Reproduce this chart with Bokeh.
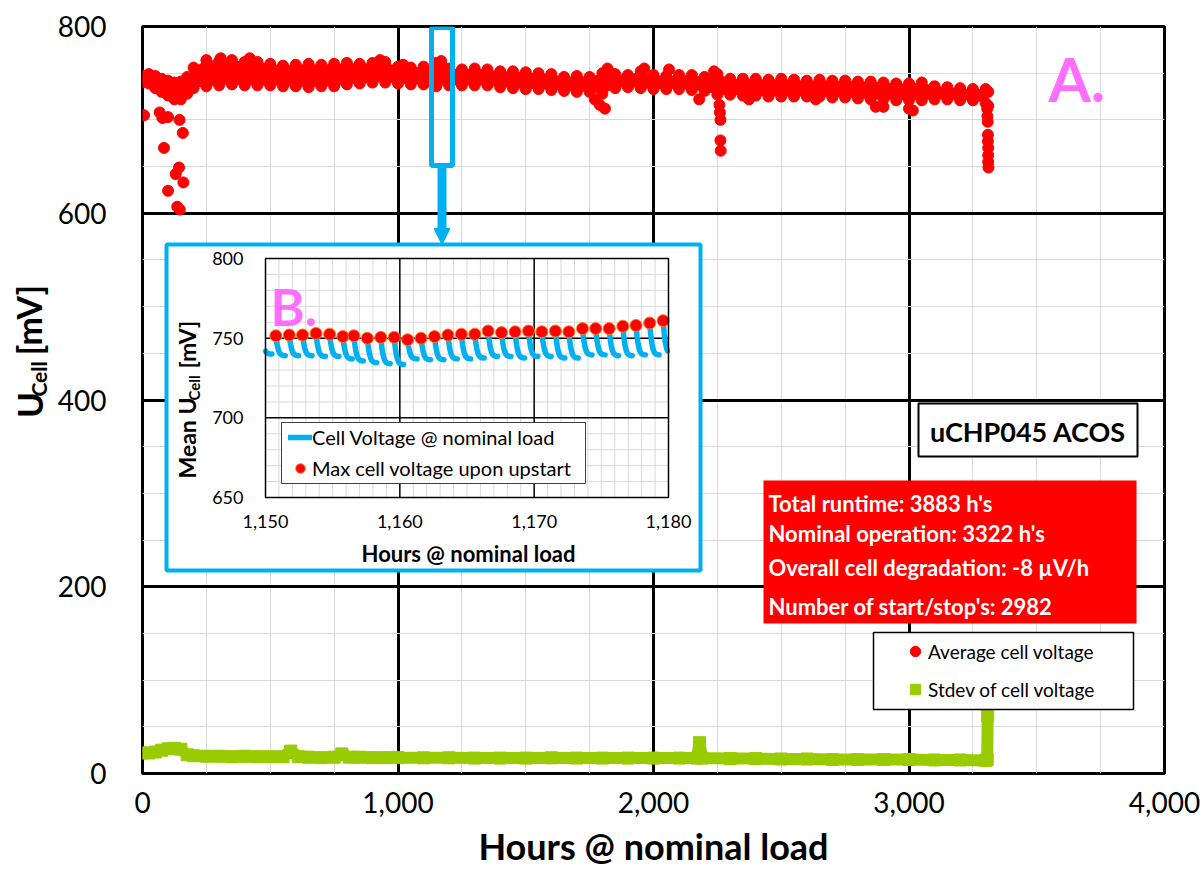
import math
from bokeh.plotting import figure
from bokeh.layouts import row
from bokeh.models import (Range1d, SingleIntervalTicker, NumeralTickFormatter, Label,
                          BoxAnnotation, Legend, LegendItem, Arrow, NormalHead)
from bokeh.core.properties import value
from bokeh.embed import file_html
from bokeh.resources import INLINE

# ---------------- data ----------------
# Average cell voltage band: upper and lower dot centres [mV]
avg_hours = [0, 25, 50, 75, 100, 125, 150, 175,
             200, 250, 300, 350, 400, 450, 500, 550, 600, 650, 700, 750, 800, 850, 900, 950,
             1000, 1050, 1100, 1150, 1200, 1250, 1300, 1350, 1400, 1450, 1500, 1550, 1600, 1650, 1700, 1750,
             1800, 1850, 1900, 1950, 2000, 2050, 2100, 2150, 2200, 2250, 2300, 2350, 2400, 2450, 2500, 2550,
             2600, 2650, 2700, 2750, 2800, 2850, 2900, 2950, 3000, 3050, 3100, 3150, 3200, 3250, 3300, 3310]
avg_high_mv = [747, 749, 747, 744, 742, 740, 741, 746,
               756, 764, 763, 764, 762, 762, 760, 758, 759, 760, 759, 760, 761, 760, 761, 762,
               757, 756, 757, 761, 755, 754, 755, 754, 752, 752, 751, 750, 749, 746, 747, 746,
               750, 749, 748, 752, 748, 747, 748, 748, 746, 749, 744, 744, 744, 743, 744, 743,
               742, 743, 742, 742, 741, 741, 740, 739, 739, 740, 736, 735, 734, 733, 733, 730]
avg_low_mv = [740, 739, 734, 730, 726, 722, 722, 728,
              734, 736, 737, 738, 737, 737, 737, 736, 736, 735, 736, 736, 738, 739, 740, 740,
              739, 738, 738, 736, 737, 737, 737, 737, 735, 734, 733, 733, 732, 731, 730, 730,
              728, 734, 735, 734, 733, 733, 733, 732, 731, 727, 727, 726, 726, 725, 725, 725,
              725, 725, 724, 724, 723, 722, 722, 721, 721, 721, 722, 722, 721, 721, 718, 715]
# single dots outside the band (start-up dips, spikes, final shut-down)
avg_extra_hours = [6, 67, 78, 84, 100, 100, 130, 136, 143, 145, 146, 158, 160,
                   306, 420, 930, 1020, 1169, 1820, 1964, 2061, 2237,
                   1770, 1790, 1810, 2179, 2258, 2260, 2262, 2262, 2263, 2374, 2635, 2870, 2900, 3000, 3015,
                   3306, 3307, 3308, 3309, 3309, 3310, 3310, 3310, 3311]
avg_extra_mv = [705, 708, 702, 670, 703, 624, 642, 607, 649, 700, 604, 686, 633,
                766, 766, 764, 759, 763, 755, 755, 754, 752,
                722, 716, 712, 722, 716, 708, 700, 678, 667, 722, 722, 714, 714, 712, 710,
                712, 704, 698, 684, 677, 670, 662, 655, 649]

# Standard deviation of cell voltage [mV]
stdev_hours = [0, 25, 50, 75, 100, 125, 150, 175, 200, 250, 300, 350, 400, 450, 500, 550,
               580, 610, 650, 700, 750, 780, 810, 850, 900, 950, 1000, 1100, 1200, 1300, 1400, 1500,
               1600, 1700, 1800, 1900, 2000, 2100, 2170, 2180, 2190, 2300, 2400, 2500, 2600, 2700, 2800, 2900,
               3000, 3100, 3200, 3300, 3306, 3308]
stdev_mv = [22, 22, 23, 25, 26.5, 27, 26, 20, 19, 18.5, 18.5, 18, 18.5, 18, 18, 18,
            24, 18, 17.5, 17, 17.5, 21, 17.5, 17.5, 17, 17, 17, 16.8, 16.8, 16.5, 16.5, 16.5,
            16.8, 16.5, 16.5, 16.5, 16.5, 16.5, 16.5, 33, 16.5, 16, 16, 15.5, 15.5, 15, 15, 15,
            15, 14.5, 14.5, 14, 15, 62]

# Inset: 1150 - 1180 h
inset_dot_hours = [1150.77, 1151.77, 1152.76, 1153.76, 1154.77, 1155.76, 1156.58, 1157.58, 1158.58, 1159.58,
                   1160.58, 1161.58, 1162.58, 1163.58, 1164.58, 1165.58, 1166.57, 1167.57, 1168.58, 1169.58,
                   1170.57, 1171.58, 1172.58, 1173.6, 1174.58, 1175.58, 1176.6, 1177.58, 1178.6, 1179.6]
inset_dot_mv = [751.5, 752, 752, 753, 752.5, 751, 751.5, 750, 750.5, 750.5,
                749, 750, 751, 752, 752.5, 752.5, 754.5, 753.5, 754, 754.5,
                754, 754.5, 754, 756, 756, 756, 757.5, 758, 759.5, 761]
inset_hook_start_hours = [1149.77] + inset_dot_hours
inset_hook_top_mv = [749] + inset_dot_mv
inset_hook_bottom_mv = [740, 739, 739, 739, 738.5, 738.5, 737, 735.7, 734.6, 734, 733.5,
                        737, 736.5, 736.5, 737, 737, 737.5, 738.5, 738.5, 737.5, 738.5,
                        738.5, 737.5, 737.5, 739.5, 739.5, 739, 739, 739.5, 739.5, 740]
# shape of one voltage decay after an upstart (hours after start, fraction of drop remaining)
inset_hook_dt = [0.0, 0.08, 0.16, 0.24, 0.32, 0.42, 0.55, 0.7]
inset_hook_frac = [1.0, 0.62, 0.36, 0.2, 0.1, 0.04, 0.01, 0.0]

inset_x_ticks = [1150, 1160, 1170, 1180]
inset_x_labels = ["1,150", "1,160", "1,170", "1,180"]
inset_y_ticks = [650, 700, 750, 800]
inset_y_labels = ["650", "700", "750", "800"]

info_lines = ["Total runtime: 3883 h's", "Nominal operation: 3322 h's",
              "Overall cell degradation: -8 \u00b5V/h", "Number of start/stop's: 2982"]

# ---------------- style ----------------
FONT = "Lato"
RED = "#FF0000"
GREEN = "#99CC00"
CYAN = "#00B0F0"
MAGENTA = "#FF6EFF"
MINOR = "#D9D9D9"

W, H = 1203, 870
LW = 50                       # width of the strip holding the y-axis title
FL, FR, FT, FB = 142, 1164, 26, 773   # frame edges in page pixels
X0, X1, Y0, Y1 = 0, 4000, 0, 800


def hx(px):
    return X0 + (px - FL) / (FR - FL) * (X1 - X0)


def my(py):
    return Y0 + (FB - py) / (FB - FT) * (Y1 - Y0)


p = figure(width=W - LW, height=H, x_range=Range1d(X0, X1), y_range=Range1d(Y0, Y1),
           output_backend="svg", toolbar_location=None,
           min_border_left=FL - LW, min_border_right=W - FR, min_border_top=FT, min_border_bottom=H - FB)
p.background_fill_color = "white"
p.border_fill_color = "white"
p.outline_line_color = "black"
p.outline_line_width = 3

p.xaxis.ticker = SingleIntervalTicker(interval=1000, num_minor_ticks=4)
p.yaxis.ticker = SingleIntervalTicker(interval=200, num_minor_ticks=4)
p.xaxis.formatter = NumeralTickFormatter(format="0,0")
for ax in (p.xaxis, p.yaxis):
    ax.axis_line_color = None
    ax.major_tick_line_color = None
    ax.minor_tick_line_color = None
    ax.major_label_text_font = FONT
    ax.major_label_text_font_size = "28px"
    ax.major_label_text_color = "black"
p.xaxis.major_label_standoff = 12
p.yaxis.major_label_standoff = 30
p.xaxis.axis_label = "Hours @ nominal load"
p.xaxis.axis_label_text_font = FONT
p.xaxis.axis_label_text_font_style = "bold"
p.xaxis.axis_label_text_font_size = "36px"
p.xaxis.axis_label_text_color = "black"
p.xaxis.axis_label_standoff = 8

for g in (p.xgrid, p.ygrid):
    g.grid_line_color = "black"
    g.grid_line_width = 3
    g.minor_grid_line_color = MINOR
    g.minor_grid_line_width = 1

# ---------------- main series ----------------
p.varea(x=avg_hours, y1=avg_low_mv, y2=avg_high_mv, fill_color=RED)
red_r = p.scatter(avg_hours + avg_hours + avg_extra_hours,
                  avg_high_mv + avg_low_mv + avg_extra_mv,
                  marker="circle", size=11, fill_color=RED, line_color=RED)
p.line(stdev_hours, stdev_mv, line_color=GREEN, line_width=12)
green_r = p.scatter(stdev_hours, stdev_mv, marker="square", size=12, fill_color=GREEN, line_color=GREEN)

# ---------------- inset (drawn in its own ranges inside the main frame) ----------------
IXA, IXB, IPXA, IPXB = 1150, 1180, 265, 668
IYA, IYB, IPYA, IPYB = 650, 800, 497, 258
sx = (IXB - IXA) / (IPXB - IPXA)
sy = (IYB - IYA) / (IPYA - IPYB)
p.extra_x_ranges = {"ix": Range1d(IXA - (IPXA - FL) * sx, IXB + (FR - IPXB) * sx)}
p.extra_y_ranges = {"iy": Range1d(IYA - (FB - IPYA) * sy, IYB + (IPYB - FT) * sy)}
IR = dict(x_range_name="ix", y_range_name="iy")

# white panel with cyan frame
p.quad(left=hx(166), right=hx(700), bottom=my(570), top=my(244),
       fill_color="white", line_color=CYAN, line_width=4)

minor_h = [h for h in range(IXA + 1, IXB) if h % 10 != 0]
major_h = [h for h in range(IXA + 1, IXB) if h % 10 == 0]
minor_v = [v for v in range(IYA + 10, IYB, 10) if v % 50 != 0]
major_v = [v for v in range(IYA + 10, IYB, 10) if v % 50 == 0]
p.segment(x0=minor_h, x1=minor_h, y0=[IYA] * len(minor_h), y1=[IYB] * len(minor_h),
          line_color=MINOR, line_width=1, **IR)
p.segment(x0=[IXA] * len(minor_v), x1=[IXB] * len(minor_v), y0=minor_v, y1=minor_v,
          line_color=MINOR, line_width=1, **IR)
p.segment(x0=major_h, x1=major_h, y0=[IYA] * len(major_h), y1=[IYB] * len(major_h),
          line_color="black", line_width=1.5, **IR)
p.segment(x0=[IXA] * len(major_v), x1=[IXB] * len(major_v), y0=major_v, y1=major_v,
          line_color="black", line_width=1.5, **IR)

hook_xs, hook_ys = [], []
for s, top, bot in zip(inset_hook_start_hours, inset_hook_top_mv, inset_hook_bottom_mv):
    xs, ys = [], []
    for dt, f in zip(inset_hook_dt, inset_hook_frac):
        xv = s + dt
        if IXA <= xv <= IXB:
            xs.append(xv)
            ys.append(bot + (top - bot) * f)
    if len(xs) >= 2:
        hook_xs.append(xs)
        hook_ys.append(ys)
hook_r = p.multi_line(hook_xs, hook_ys, line_color=CYAN, line_width=5.5, line_cap="round",
                      line_join="round", **IR)
dot_r = p.scatter(inset_dot_hours, inset_dot_mv, marker="circle", size=12,
                  fill_color=RED, line_color="#FF7A1A", line_width=1, **IR)
p.quad(left=[IXA], right=[IXB], bottom=[IYA], top=[IYB], fill_color=None,
       line_color="black", line_width=1.5, **IR)

p.text(x=[IXA - (IPXA - 243) * sx] * len(inset_y_ticks), y=inset_y_ticks, text=inset_y_labels,
       text_align="right", text_baseline="middle", text_font=value(FONT), text_font_size="18px",
       text_color="black", **IR)
p.text(x=inset_x_ticks, y=[IYA - (521 - IPYA) * sy] * len(inset_x_ticks), text=inset_x_labels,
       text_align="center", text_baseline="middle", text_font=value(FONT), text_font_size="18px",
       text_color="black", **IR)


# ---------------- annotations ----------------
def lab(px, py, text, size, color="black", bold=True, align="left", angle=0.0):
    p.add_layout(Label(x=hx(px), y=my(py), text=text, angle=angle, text_align=align,
                       text_baseline="middle", text_font=FONT,
                       text_font_style="bold" if bold else "normal",
                       text_font_size=f"{size}px", text_color=color))


def box(l, r, t, b, fill, line, lw):
    p.add_layout(BoxAnnotation(left=hx(l), right=hx(r), top=my(t), bottom=my(b),
                               fill_color=fill, fill_alpha=0 if fill is None else 1,
                               line_color=line, line_alpha=0 if line is None else 1,
                               line_width=lw))


# inset axis titles
lab(186, 478, "Mean U", 23, angle=math.pi / 2)
lab(193, 400, "Cell", 15, angle=math.pi / 2)
lab(186, 368, "[mV]", 23, angle=math.pi / 2)
lab(468, 553, "Hours @ nominal load", 22, align="center")

# info box
box(763, 1136, 480, 623, RED, None, 0)
for line, yc in zip(info_lines, [502.5, 532.5, 566.5, 605.5]):
    lab(768, yc, line, 22, color="white")

# device box
box(918, 1137, 403, 456, "white", "black", 2)
lab(1027.5, 430.5, "uCHP045 ACOS", 27, align="center")

# main legend
box(873, 1133, 632, 709, "white", "black", 1.5)
leg = Legend(items=[LegendItem(label="Average cell voltage", renderers=[red_r]),
                    LegendItem(label="Stdev of cell voltage", renderers=[green_r])],
             location=(902 - FL, FB - 702), padding=0, margin=0, spacing=12,
             glyph_width=26, glyph_height=26, label_standoff=0,
             border_line_color=None, background_fill_alpha=0,
             label_text_font=FONT, label_text_font_size="19px", label_text_color="black")
p.add_layout(leg)

# inset legend
box(281, 585, 422, 483, "white", "#404040", 1)
ileg = Legend(items=[LegendItem(label="Cell Voltage @ nominal load", renderers=[hook_r]),
                     LegendItem(label="Max cell voltage upon upstart", renderers=[dot_r])],
              location=(288 - FL, FB - 481), padding=0, margin=0, spacing=5,
              glyph_width=24, glyph_height=26, label_standoff=0,
              border_line_color=None, background_fill_alpha=0,
              label_text_font=FONT, label_text_font_size="20px", label_text_color="black")
p.add_layout(ileg)

# zoom marker and arrow
box(431, 452, 27, 165, None, CYAN, 5)
p.add_layout(Arrow(x_start=hx(441.5), y_start=my(166), x_end=hx(441.5), y_end=my(244),
                   line_color=CYAN, line_width=9,
                   end=NormalHead(size=16, fill_color=CYAN, line_color=CYAN)))

lab(1048, 77.5, "A.", 61, color=MAGENTA)
lab(270, 305.5, "B.", 52, color=MAGENTA)

# ---------------- y-axis title strip (page-pixel coordinates) ----------------
yt = figure(width=LW, height=H, x_range=Range1d(0, LW), y_range=Range1d(H, 0),
            output_backend="svg", toolbar_location=None, x_axis_type=None, y_axis_type=None,
            min_border=0)
yt.outline_line_color = None
yt.background_fill_color = "white"
yt.border_fill_color = "white"
yt.xgrid.visible = False
yt.ygrid.visible = False
for tx, ty, tt, ts in [(28, 456, "U", "35px"), (38, 431, "Cell", "21px"), (28, 383, "[mV]", "34px")]:
    yt.text(x=[tx], y=[ty], text=[tt], angle=math.pi / 2, text_align="left", text_baseline="middle",
            text_font=value(FONT), text_font_style="bold", text_font_size=ts, text_color="black")

layout = row(yt, p)
open("out.html", "w").write(file_html(layout, INLINE))
